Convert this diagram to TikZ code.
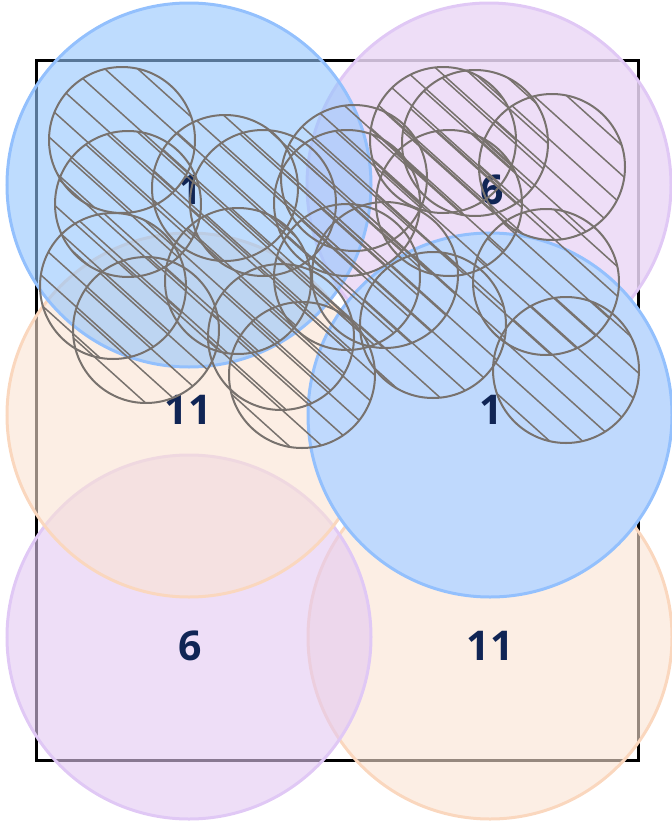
\documentclass[tikz,border=0pt]{standalone}
\usepackage{fontspec}
\setmainfont{Open Sans}
\definecolor{bluefill}{RGB}{147,197,253}
\definecolor{bluesolid}{RGB}{191,217,253}
\definecolor{bluedraw}{RGB}{147,192,253}
\definecolor{purpfill}{RGB}{227,200,242}
\definecolor{purpdense}{RGB}{235,216,246}
\definecolor{purpdraw}{RGB}{224,200,245}
\definecolor{peachfill}{RGB}{250,227,210}
\definecolor{peachdraw}{RGB}{250,215,190}
\definecolor{stone}{RGB}{120,114,110}
\definecolor{navy}{RGB}{16,37,85}
\begin{document}
\begin{tikzpicture}[x=1pt,y=-1pt,
  bigc/.style={circle, minimum size=364pt, inner sep=0pt, outer sep=0pt, line width=3pt, fill opacity=0.6},
  bluec/.style={bigc, fill=bluefill, draw=bluedraw},
  purpc/.style={bigc, fill=purpfill, draw=purpdraw},
  peachc/.style={bigc, fill=peachfill, draw=peachdraw},
  smallc/.style={circle, minimum size=146pt, inner sep=0pt, outer sep=0pt, draw=stone, line width=2pt},
  hatchl/.style={draw=stone, line width=1.5pt},
  lbl/.style={text=navy, font=\fontsize{41}{41}\selectfont\bfseries, inner sep=0pt},
  frame/.style={draw=black, line width=3pt, minimum width=602pt, minimum height=700pt, inner sep=0pt}]
\useasboundingbox (0,0) rectangle (672,822);
\node[frame] (box) at (337,410) {};
% big circles
\node[peachc] (c6) at (490,637) {};
\node[purpc] (c5) at (189,637) {};
\node[peachc] (c3) at (189,415) {};
\node[purpc, fill=purpdense, fill opacity=0.85] (c2) at (489,185) {};
\node[bluec, fill=bluesolid, fill opacity=1] (c4) at (490,415) {};
\node[bluec] (c1) at (189,185) {};
% labels
\node[lbl] (l1) at (190,190) {1};
\node[lbl] (l2) at (492,190) {6};
\node[lbl] (l3) at (188,410) {11};
\node[lbl] (l4) at (491,410) {1};
\node[lbl] (l5) at (190,646) {6};
\node[lbl] (l6) at (490,646) {11};
% small hatched circles
\foreach \cx/\cy [count=\i] in {122/140,128/204,225/188,263/203,113/286,146/330,238/281,281/337,302/375,354/178,347/203,443/140,475/143,552/167,449/203,347/277,385/275,546/282,433/325,566/370} {
  \pgfmathsetmacro{\nc}{-0.6691*\cx+0.7431*\cy}
  \pgfmathsetmacro{\ph}{-mod(\nc,22)+mod(\i*3,7)}
  \begin{scope}
    \clip (\cx,\cy) circle[radius=73];
    \foreach \k in {-5,-4,-3,-2,-1,0,1,2,3,4,5} {
      \pgfmathsetmacro{\hoff}{\k*22+\ph}
      \pgfmathsetmacro{\hx}{\cx-0.6691*\hoff-66.88}
      \pgfmathsetmacro{\hy}{\cy+0.7431*\hoff-60.22}
      \draw[hatchl] (\hx,\hy) -- ++(133.76,120.44);
    }
  \end{scope}
  \node[smallc] (s\i) at (\cx,\cy) {};
}
\end{tikzpicture}
\end{document}
